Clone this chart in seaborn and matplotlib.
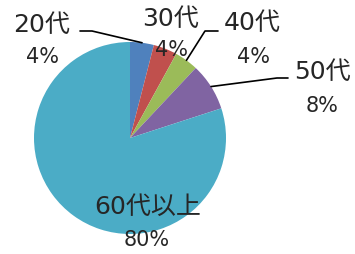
import numpy as np
import matplotlib
matplotlib.use("Agg")
import matplotlib.pyplot as plt
import seaborn as sns

sns.set_theme(style="white")
plt.rcParams['font.family'] = ['DejaVu Sans', 'Noto Sans CJK JP']

categories = ["20代", "30代", "40代", "50代", "60代以上"]
values = [4, 4, 4, 8, 80]
pct_labels = ["4%", "4%", "4%", "8%", "80%"]
colors = ["#4F81BD", "#C0504D", "#9BBB59", "#8064A2", "#4BACC6"]

W, H = 355, 255
fig = plt.figure(figsize=(W / 100, H / 100), dpi=100)
ax = fig.add_axes([0, 0, 1, 1])

cx, cy, r = 130, H - 139, 96
wedges, _ = ax.pie(values, colors=colors, startangle=90, counterclock=False,
                   center=(cx, cy), radius=r, frame=True,
                   wedgeprops=dict(linewidth=0))
ax.set_xlim(0, W)
ax.set_ylim(0, H)
ax.set_aspect('equal')
ax.axis('off')

# label positions (pixel coords, y from top): name center, pct center, leader elbow/start
label_pos = [
    ((42, 25), (42, 57), [(80, 32), (92, 32)]),
    ((170, 19), (171, 50), None),
    ((252, 23), (253, 57), [(218, 32), (205, 32)]),
    ((322, 72), (322, 106), [(288, 79), (277, 79)]),
    ((148, 207), (147, 240), None),
]
fs = 18
tc = "#262626"
for w, name, pct, (npos, ppos, leader) in zip(wedges, categories, pct_labels, label_pos):
    ax.text(npos[0], H - npos[1], name, ha='center', va='center', fontsize=fs, color=tc)
    ax.text(ppos[0], H - ppos[1], pct, ha='center', va='center', fontsize=15, color=tc)
    if leader is not None:
        mid = np.deg2rad((w.theta1 + w.theta2) / 2)
        ex, ey = cx + r * np.cos(mid), cy + r * np.sin(mid)
        xs = [leader[0][0], leader[1][0], ex]
        ys = [H - leader[0][1], H - leader[1][1], ey]
        ax.plot(xs, ys, color='black', linewidth=1.2)

fig.savefig("out.png", dpi=100)
